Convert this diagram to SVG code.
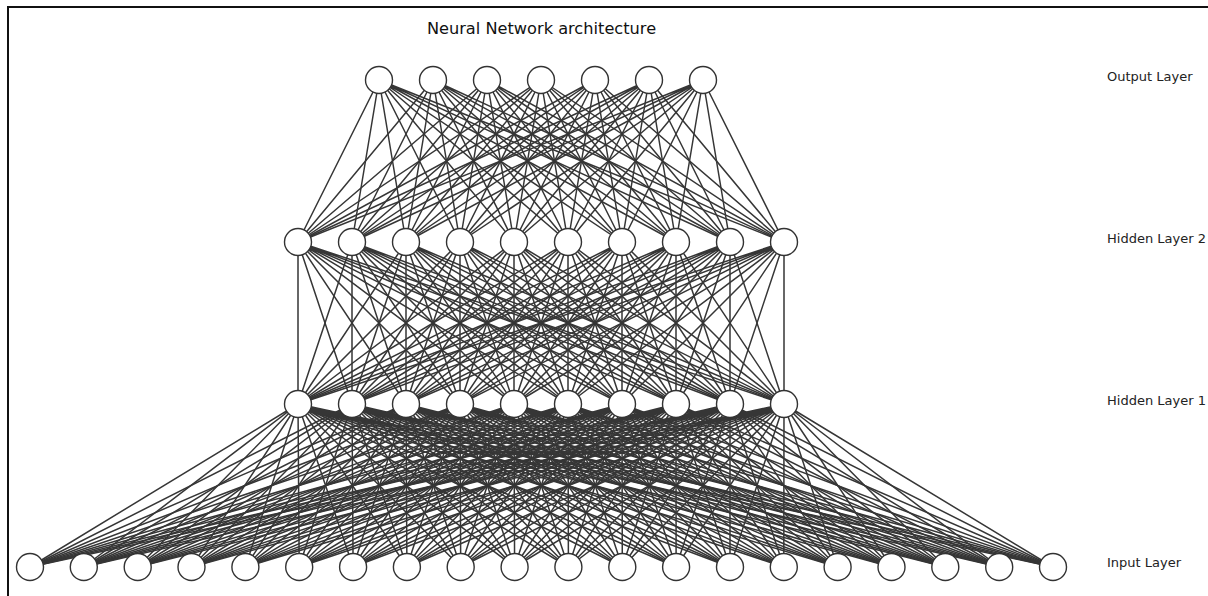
<svg xmlns="http://www.w3.org/2000/svg" width="1208" height="596" viewBox="0 0 1208 596">
<style>
.edge{fill:none;stroke:#363636;stroke-width:1.5}
.node circle{fill:#fff;stroke:#333;stroke-width:1.4}
.lbl{font-family:"DejaVu Sans",sans-serif;font-size:13px;fill:#222}
.title{font-family:"DejaVu Sans",sans-serif;font-size:16.2px;fill:#111;text-anchor:middle}
</style>
<rect x="0" y="0" width="1208" height="596" fill="#fff"/>
<path d="M8 596V7H1208" fill="none" stroke="#111" stroke-width="2"/>
<text class="title" x="541.5" y="34">Neural Network architecture</text>
<text class="lbl" x="1107" y="81">Output Layer</text>
<text class="lbl" x="1107" y="243">Hidden Layer 2</text>
<text class="lbl" x="1107" y="405">Hidden Layer 1</text>
<text class="lbl" x="1107" y="567">Input Layer</text>
<g id="connectors">
<path class="edge" d="M379 80L298 242M379 80L352 242M379 80L406 242M379 80L460 242M379 80L514 242M379 80L568 242M379 80L622 242M379 80L676 242M379 80L730 242M379 80L784 242"/>
<path class="edge" d="M433 80L298 242M433 80L352 242M433 80L406 242M433 80L460 242M433 80L514 242M433 80L568 242M433 80L622 242M433 80L676 242M433 80L730 242M433 80L784 242"/>
<path class="edge" d="M487 80L298 242M487 80L352 242M487 80L406 242M487 80L460 242M487 80L514 242M487 80L568 242M487 80L622 242M487 80L676 242M487 80L730 242M487 80L784 242"/>
<path class="edge" d="M541 80L298 242M541 80L352 242M541 80L406 242M541 80L460 242M541 80L514 242M541 80L568 242M541 80L622 242M541 80L676 242M541 80L730 242M541 80L784 242"/>
<path class="edge" d="M595 80L298 242M595 80L352 242M595 80L406 242M595 80L460 242M595 80L514 242M595 80L568 242M595 80L622 242M595 80L676 242M595 80L730 242M595 80L784 242"/>
<path class="edge" d="M649 80L298 242M649 80L352 242M649 80L406 242M649 80L460 242M649 80L514 242M649 80L568 242M649 80L622 242M649 80L676 242M649 80L730 242M649 80L784 242"/>
<path class="edge" d="M703 80L298 242M703 80L352 242M703 80L406 242M703 80L460 242M703 80L514 242M703 80L568 242M703 80L622 242M703 80L676 242M703 80L730 242M703 80L784 242"/>
<path class="edge" d="M298 242L298 404M298 242L352 404M298 242L406 404M298 242L460 404M298 242L514 404M298 242L568 404M298 242L622 404M298 242L676 404M298 242L730 404M298 242L784 404"/>
<path class="edge" d="M352 242L298 404M352 242L352 404M352 242L406 404M352 242L460 404M352 242L514 404M352 242L568 404M352 242L622 404M352 242L676 404M352 242L730 404M352 242L784 404"/>
<path class="edge" d="M406 242L298 404M406 242L352 404M406 242L406 404M406 242L460 404M406 242L514 404M406 242L568 404M406 242L622 404M406 242L676 404M406 242L730 404M406 242L784 404"/>
<path class="edge" d="M460 242L298 404M460 242L352 404M460 242L406 404M460 242L460 404M460 242L514 404M460 242L568 404M460 242L622 404M460 242L676 404M460 242L730 404M460 242L784 404"/>
<path class="edge" d="M514 242L298 404M514 242L352 404M514 242L406 404M514 242L460 404M514 242L514 404M514 242L568 404M514 242L622 404M514 242L676 404M514 242L730 404M514 242L784 404"/>
<path class="edge" d="M568 242L298 404M568 242L352 404M568 242L406 404M568 242L460 404M568 242L514 404M568 242L568 404M568 242L622 404M568 242L676 404M568 242L730 404M568 242L784 404"/>
<path class="edge" d="M622 242L298 404M622 242L352 404M622 242L406 404M622 242L460 404M622 242L514 404M622 242L568 404M622 242L622 404M622 242L676 404M622 242L730 404M622 242L784 404"/>
<path class="edge" d="M676 242L298 404M676 242L352 404M676 242L406 404M676 242L460 404M676 242L514 404M676 242L568 404M676 242L622 404M676 242L676 404M676 242L730 404M676 242L784 404"/>
<path class="edge" d="M730 242L298 404M730 242L352 404M730 242L406 404M730 242L460 404M730 242L514 404M730 242L568 404M730 242L622 404M730 242L676 404M730 242L730 404M730 242L784 404"/>
<path class="edge" d="M784 242L298 404M784 242L352 404M784 242L406 404M784 242L460 404M784 242L514 404M784 242L568 404M784 242L622 404M784 242L676 404M784 242L730 404M784 242L784 404"/>
<path class="edge" d="M298 404L30 567M298 404L83.8 567M298 404L137.7 567M298 404L191.5 567M298 404L245.4 567M298 404L299.2 567M298 404L353.1 567M298 404L406.9 567M298 404L460.7 567M298 404L514.6 567M298 404L568.4 567M298 404L622.3 567M298 404L676.1 567M298 404L730 567M298 404L783.8 567M298 404L837.6 567M298 404L891.5 567M298 404L945.3 567M298 404L999.2 567M298 404L1053 567"/>
<path class="edge" d="M352 404L30 567M352 404L83.8 567M352 404L137.7 567M352 404L191.5 567M352 404L245.4 567M352 404L299.2 567M352 404L353.1 567M352 404L406.9 567M352 404L460.7 567M352 404L514.6 567M352 404L568.4 567M352 404L622.3 567M352 404L676.1 567M352 404L730 567M352 404L783.8 567M352 404L837.6 567M352 404L891.5 567M352 404L945.3 567M352 404L999.2 567M352 404L1053 567"/>
<path class="edge" d="M406 404L30 567M406 404L83.8 567M406 404L137.7 567M406 404L191.5 567M406 404L245.4 567M406 404L299.2 567M406 404L353.1 567M406 404L406.9 567M406 404L460.7 567M406 404L514.6 567M406 404L568.4 567M406 404L622.3 567M406 404L676.1 567M406 404L730 567M406 404L783.8 567M406 404L837.6 567M406 404L891.5 567M406 404L945.3 567M406 404L999.2 567M406 404L1053 567"/>
<path class="edge" d="M460 404L30 567M460 404L83.8 567M460 404L137.7 567M460 404L191.5 567M460 404L245.4 567M460 404L299.2 567M460 404L353.1 567M460 404L406.9 567M460 404L460.7 567M460 404L514.6 567M460 404L568.4 567M460 404L622.3 567M460 404L676.1 567M460 404L730 567M460 404L783.8 567M460 404L837.6 567M460 404L891.5 567M460 404L945.3 567M460 404L999.2 567M460 404L1053 567"/>
<path class="edge" d="M514 404L30 567M514 404L83.8 567M514 404L137.7 567M514 404L191.5 567M514 404L245.4 567M514 404L299.2 567M514 404L353.1 567M514 404L406.9 567M514 404L460.7 567M514 404L514.6 567M514 404L568.4 567M514 404L622.3 567M514 404L676.1 567M514 404L730 567M514 404L783.8 567M514 404L837.6 567M514 404L891.5 567M514 404L945.3 567M514 404L999.2 567M514 404L1053 567"/>
<path class="edge" d="M568 404L30 567M568 404L83.8 567M568 404L137.7 567M568 404L191.5 567M568 404L245.4 567M568 404L299.2 567M568 404L353.1 567M568 404L406.9 567M568 404L460.7 567M568 404L514.6 567M568 404L568.4 567M568 404L622.3 567M568 404L676.1 567M568 404L730 567M568 404L783.8 567M568 404L837.6 567M568 404L891.5 567M568 404L945.3 567M568 404L999.2 567M568 404L1053 567"/>
<path class="edge" d="M622 404L30 567M622 404L83.8 567M622 404L137.7 567M622 404L191.5 567M622 404L245.4 567M622 404L299.2 567M622 404L353.1 567M622 404L406.9 567M622 404L460.7 567M622 404L514.6 567M622 404L568.4 567M622 404L622.3 567M622 404L676.1 567M622 404L730 567M622 404L783.8 567M622 404L837.6 567M622 404L891.5 567M622 404L945.3 567M622 404L999.2 567M622 404L1053 567"/>
<path class="edge" d="M676 404L30 567M676 404L83.8 567M676 404L137.7 567M676 404L191.5 567M676 404L245.4 567M676 404L299.2 567M676 404L353.1 567M676 404L406.9 567M676 404L460.7 567M676 404L514.6 567M676 404L568.4 567M676 404L622.3 567M676 404L676.1 567M676 404L730 567M676 404L783.8 567M676 404L837.6 567M676 404L891.5 567M676 404L945.3 567M676 404L999.2 567M676 404L1053 567"/>
<path class="edge" d="M730 404L30 567M730 404L83.8 567M730 404L137.7 567M730 404L191.5 567M730 404L245.4 567M730 404L299.2 567M730 404L353.1 567M730 404L406.9 567M730 404L460.7 567M730 404L514.6 567M730 404L568.4 567M730 404L622.3 567M730 404L676.1 567M730 404L730 567M730 404L783.8 567M730 404L837.6 567M730 404L891.5 567M730 404L945.3 567M730 404L999.2 567M730 404L1053 567"/>
<path class="edge" d="M784 404L30 567M784 404L83.8 567M784 404L137.7 567M784 404L191.5 567M784 404L245.4 567M784 404L299.2 567M784 404L353.1 567M784 404L406.9 567M784 404L460.7 567M784 404L514.6 567M784 404L568.4 567M784 404L622.3 567M784 404L676.1 567M784 404L730 567M784 404L783.8 567M784 404L837.6 567M784 404L891.5 567M784 404L945.3 567M784 404L999.2 567M784 404L1053 567"/>
</g>
<g id="output-layer" class="node">
<circle id="o1" cx="379" cy="80" r="13.5"/><circle id="o2" cx="433" cy="80" r="13.5"/><circle id="o3" cx="487" cy="80" r="13.5"/><circle id="o4" cx="541" cy="80" r="13.5"/><circle id="o5" cx="595" cy="80" r="13.5"/><circle id="o6" cx="649" cy="80" r="13.5"/><circle id="o7" cx="703" cy="80" r="13.5"/>
</g>
<g id="hidden-layer-2" class="node">
<circle id="h2_1" cx="298" cy="242" r="13.5"/><circle id="h2_2" cx="352" cy="242" r="13.5"/><circle id="h2_3" cx="406" cy="242" r="13.5"/><circle id="h2_4" cx="460" cy="242" r="13.5"/><circle id="h2_5" cx="514" cy="242" r="13.5"/><circle id="h2_6" cx="568" cy="242" r="13.5"/><circle id="h2_7" cx="622" cy="242" r="13.5"/><circle id="h2_8" cx="676" cy="242" r="13.5"/><circle id="h2_9" cx="730" cy="242" r="13.5"/><circle id="h2_10" cx="784" cy="242" r="13.5"/>
</g>
<g id="hidden-layer-1" class="node">
<circle id="h1_1" cx="298" cy="404" r="13.5"/><circle id="h1_2" cx="352" cy="404" r="13.5"/><circle id="h1_3" cx="406" cy="404" r="13.5"/><circle id="h1_4" cx="460" cy="404" r="13.5"/><circle id="h1_5" cx="514" cy="404" r="13.5"/><circle id="h1_6" cx="568" cy="404" r="13.5"/><circle id="h1_7" cx="622" cy="404" r="13.5"/><circle id="h1_8" cx="676" cy="404" r="13.5"/><circle id="h1_9" cx="730" cy="404" r="13.5"/><circle id="h1_10" cx="784" cy="404" r="13.5"/>
</g>
<g id="input-layer" class="node">
<circle id="i1" cx="30" cy="567" r="13.5"/><circle id="i2" cx="83.8" cy="567" r="13.5"/><circle id="i3" cx="137.7" cy="567" r="13.5"/><circle id="i4" cx="191.5" cy="567" r="13.5"/><circle id="i5" cx="245.4" cy="567" r="13.5"/><circle id="i6" cx="299.2" cy="567" r="13.5"/><circle id="i7" cx="353.1" cy="567" r="13.5"/><circle id="i8" cx="406.9" cy="567" r="13.5"/><circle id="i9" cx="460.7" cy="567" r="13.5"/><circle id="i10" cx="514.6" cy="567" r="13.5"/><circle id="i11" cx="568.4" cy="567" r="13.5"/><circle id="i12" cx="622.3" cy="567" r="13.5"/><circle id="i13" cx="676.1" cy="567" r="13.5"/><circle id="i14" cx="730" cy="567" r="13.5"/><circle id="i15" cx="783.8" cy="567" r="13.5"/><circle id="i16" cx="837.6" cy="567" r="13.5"/><circle id="i17" cx="891.5" cy="567" r="13.5"/><circle id="i18" cx="945.3" cy="567" r="13.5"/><circle id="i19" cx="999.2" cy="567" r="13.5"/><circle id="i20" cx="1053" cy="567" r="13.5"/>
</g>
</svg>
